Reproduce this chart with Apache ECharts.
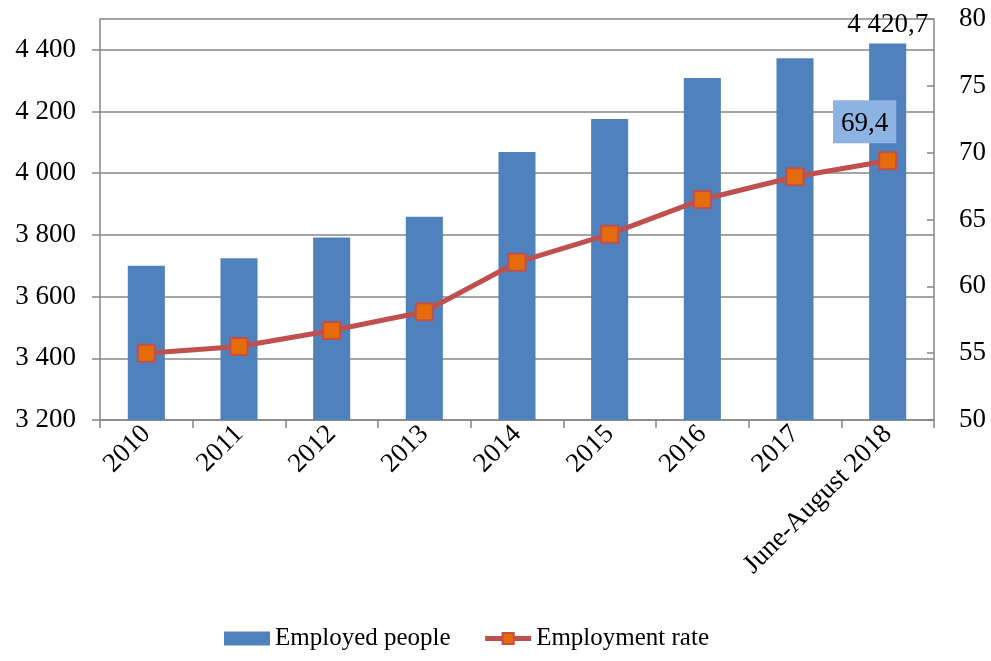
<!DOCTYPE html>
<html><head><meta charset="utf-8">
<script src="https://cdn.jsdelivr.net/npm/echarts@6/dist/echarts.min.js"></script>
<style>html,body{margin:0;padding:0;background:#fff}#c{width:991px;height:661px}</style>
</head><body><div id="c"></div>
<script>
const categories = ['2010','2011','2012','2013','2014','2015','2016','2017','June-August 2018'];
const employedPeople = [3700, 3724, 3792, 3859, 4069, 4176, 4309, 4373, 4420.7];
const employmentRate = [55.0, 55.5, 56.7, 58.1, 61.8, 63.9, 66.5, 68.2, 69.4];
const leftTicks = [3200, 4500, 200];
const rightTicks = [50, 80, 5];

const FONT = '"Liberation Serif","DejaVu Serif",serif';
const FS = 27;
const sp = v => String(v).replace(/\B(?=(\d{3})+(?!\d))/g, ' ');
const fmtNum = v => { const p = String(v).split('.'); return sp(p[0]) + (p[1] ? ',' + p[1] : ''); };
const last = categories.length - 1;

const chart = echarts.init(document.getElementById('c'));
chart.setOption({
  animation: false,
  textStyle: { fontFamily: FONT },
  grid: { left: 100, right: 57, top: 19, bottom: 241 },
  legend: {
    bottom: 5, left: 219, itemGap: 32, itemWidth: 46, itemHeight: 14,
    textStyle: { fontFamily: FONT, fontSize: 25, color: '#000' },
    data: [{ name: 'Employed people', icon: 'rect' },
           { name: 'Employment rate', lineStyle: { width: 5 } }]
  },
  xAxis: {
    type: 'category', data: categories,
    axisLine: { lineStyle: { color: '#868686', width: 1.5 } },
    axisTick: { show: true, length: 8, alignWithLabel: false, lineStyle: { color: '#868686', width: 1.5 } },
    axisLabel: { rotate: 45, fontFamily: FONT, fontSize: FS, color: '#000', margin: 10, interval: 0 }
  },
  yAxis: [{
    type: 'value', min: leftTicks[0], max: leftTicks[1], interval: leftTicks[2],
    axisLine: { show: true, lineStyle: { color: '#868686', width: 1.5 } },
    axisTick: { show: true, length: 8, lineStyle: { color: '#868686', width: 1.5 } },
    splitLine: { lineStyle: { color: '#868686', width: 1.5 } },
    axisLabel: { fontFamily: FONT, fontSize: FS, color: '#000', margin: 24, formatter: v => sp(v),
      showMaxLabel: false }
  }, {
    type: 'value', min: rightTicks[0], max: rightTicks[1], interval: rightTicks[2],
    position: 'right',
    axisLine: { show: true, lineStyle: { color: '#868686', width: 1.5 } },
    axisTick: { show: true, inside: true, length: 7, lineStyle: { color: '#868686', width: 1.5 } },
    splitLine: { show: false },
    axisLabel: { fontFamily: FONT, fontSize: FS, color: '#000', margin: 25 }
  }],
  series: [{
    name: 'Employed people', type: 'bar', yAxisIndex: 0, barWidth: '40%',
    itemStyle: { color: '#4f81bd' },
    data: employedPeople.map((v, i) => i === last ? {
      value: v,
      label: { show: true, position: 'top', distance: 5, fontFamily: FONT, fontSize: FS, color: '#000',
        formatter: p => fmtNum(p.value) }
    } : v)
  }, {
    name: 'Employment rate', type: 'line', yAxisIndex: 1,
    symbol: 'rect', symbolSize: 17,
    lineStyle: { color: '#c0504d', width: 5 },
    itemStyle: { color: '#e46c0a', borderColor: '#c0504d', borderWidth: 2 },
    data: employmentRate.map((v, i) => i === last ? {
      value: v,
      label: { show: true, position: 'top', distance: 8, offset: [-23, 0],
        backgroundColor: '#8db3e2', padding: [10, 8, 6, 8],
        fontFamily: FONT, fontSize: FS, color: '#000',
        formatter: p => fmtNum(p.value) }
    } : v)
  }]
});
</script></body></html>
